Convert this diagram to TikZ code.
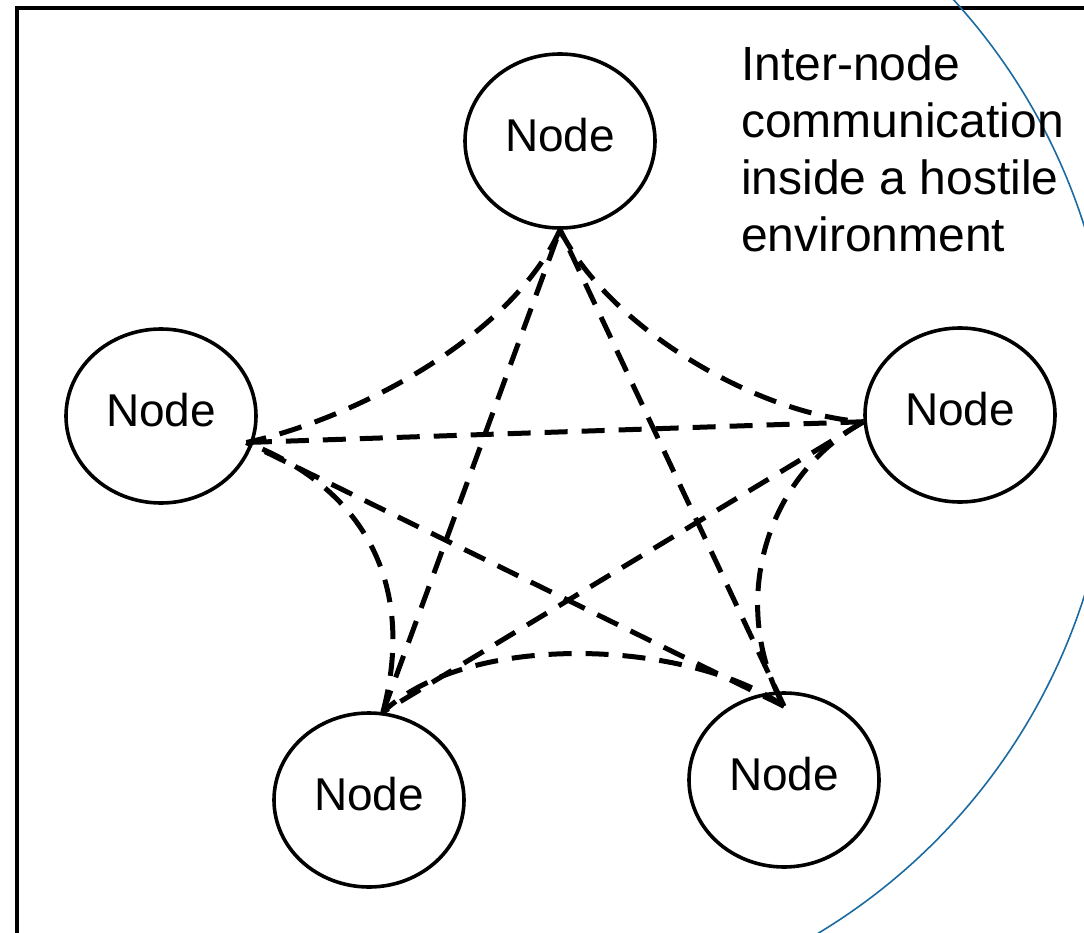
\documentclass[tikz,border=0pt]{standalone}
\usepackage{fontspec}
\setmainfont{Liberation Sans}
\usetikzlibrary{shapes.geometric,calc}
\definecolor{zoneblue}{RGB}{28,106,162}
\tikzset{
  station/.style={ellipse, draw=black, line width=3.6pt, minimum width=190pt,
    minimum height=174pt, inner sep=0pt, text depth=12pt,
    font=\fontsize{46}{52}\selectfont},
  link/.style={line width=5pt, dash pattern=on 23pt off 14pt},
  frame/.style={line width=4pt},
  zone/.style={draw=zoneblue, line width=1.6pt},
  caption/.style={anchor=north west, inner sep=0pt, align=left,
    font=\fontsize{48}{57}\selectfont}
}
\begin{document}
\begin{tikzpicture}[x=1pt,y=-1pt]
  \useasboundingbox (0,0) rectangle (1084,933);
  \clip (0,0) rectangle (1084,933);

  % outer frame and the edge of the hostile zone
  \draw[frame] (17,8) rectangle (1140,990);
  \draw[zone] (503,411) ++(-50:610) arc[start angle=-50, end angle=65, radius=610];

  % communicating nodes
  \node[station] (top)   at (560,141) {Node};
  \node[station] (left)  at (161,416) {Node};
  \node[station] (right) at (960,415) {Node};
  \node[station] (bl)    at (369,800) {Node};
  \node[station] (br)    at (784,780) {Node};

  \node[caption] (cap) at (741,46)
    {Inter-node\\communication\\inside a hostile\\environment};

  % link end points on each node
  \coordinate (pt) at (top.south);
  \coordinate (pl) at ([xshift=-7pt]left.-16);
  \coordinate (pr) at (right.184);
  \coordinate (pbl) at (bl.81);
  \coordinate (pbr) at ([yshift=-15pt]br.north);

  % straight links (star)
  \draw[link] (pbl) -- (pt);
  \draw[link] (pbr) -- (pt);
  \draw[link] (pr) -- (pl);
  \draw[link] (pbr) -- (pl);
  \draw[link] (pr) -- (pbl);

  % curved links (ring)
  \draw[link] (pt) .. controls (510,340) and (350,420) .. (pl);
  \draw[link] (pt) .. controls (610,330) and (760,415) .. (pr);
  \draw[link] (pr) .. controls (760,480) and (730,610) .. (pbr);
  \draw[link] (pbr) .. controls (690,640) and (470,630) .. (pbl);
  \draw[link] (pbl) .. controls (415,590) and (370,490) .. (pl);
\end{tikzpicture}
\end{document}
